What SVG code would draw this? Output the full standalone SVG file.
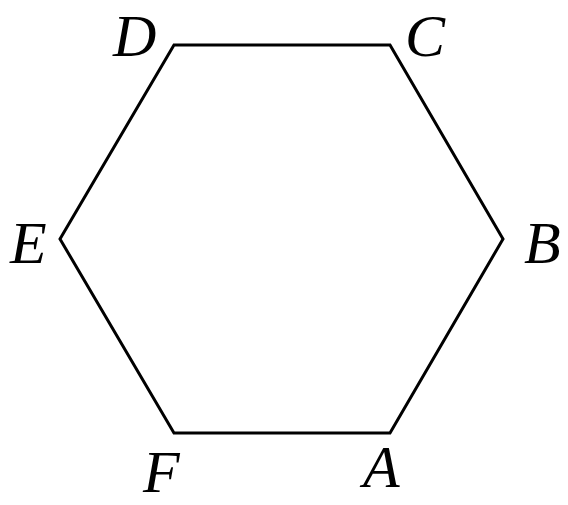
<svg xmlns="http://www.w3.org/2000/svg" width="568" height="505" viewBox="0 0 568 505">
<style>
.lbl{font-family:"Liberation Serif","Times New Roman",serif;font-style:italic;font-size:60px;fill:#000}
.edge{fill:none;stroke:#000;stroke-width:3;stroke-linejoin:miter}
</style>
<rect width="568" height="505" fill="#fff"/>
<g id="connectors">
<polygon class="edge" points="174,45 390,45 503,239 390,433 174,433 60,239"/>
</g>
<g id="A"><text class="lbl" x="363" y="487">A</text></g>
<g id="B"><text class="lbl" x="524" y="263">B</text></g>
<g id="C"><text class="lbl" x="405" y="56">C</text></g>
<g id="D"><text class="lbl" x="113" y="56">D</text></g>
<g id="E"><text class="lbl" x="10" y="263">E</text></g>
<g id="F"><text class="lbl" x="143" y="492">F</text></g>
</svg>
